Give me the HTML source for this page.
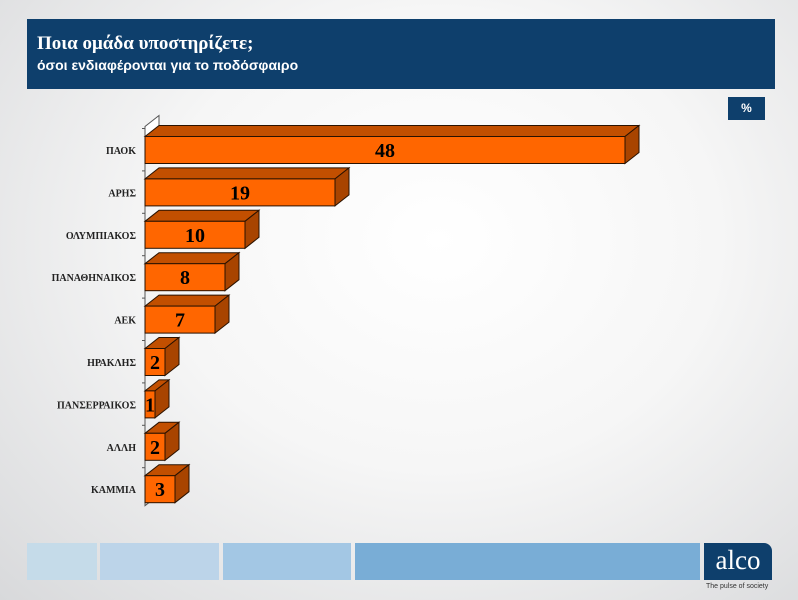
<!DOCTYPE html>
<html><head><meta charset="utf-8"><style>
body{margin:0;width:798px;height:600px;overflow:hidden;background:radial-gradient(ellipse at 55% 40%,#ffffff 0%,#f6f6f6 45%,#d8d9db 100%);font-family:"Liberation Serif",serif;position:relative}
.hdr{position:absolute;left:27px;top:19px;width:748px;height:70px;background:#0e3f6c}
.t1{position:absolute;left:10px;top:14px;color:#fff;font-size:19px;font-weight:bold}
.t2{position:absolute;left:10px;top:38px;color:#fff;font-size:14px;font-weight:bold;font-family:"Liberation Sans",sans-serif}
.pct{position:absolute;left:728px;top:97px;width:37px;height:23px;background:#0e3f6c;color:#fff;font:bold 12px "Liberation Sans",sans-serif;text-align:center;line-height:23px}
.fb{position:absolute;top:543px;height:37px}
</style></head><body>
<div class="hdr">
<div class="t1">Ποια ομάδα υποστηρίζετε;</div>
<div class="t2">όσοι ενδιαφέρονται για το ποδόσφαιρο</div>
</div>
<div class="pct">%</div>
<svg id="chart" width="798" height="600" style="position:absolute;left:0;top:0"></svg>
<div class="fb" style="left:27px;width:70px;background:#c5dbe9"></div>
<div class="fb" style="left:100px;width:119px;background:#bcd4e9"></div>
<div class="fb" style="left:223px;width:128px;background:#a3c7e4"></div>
<div class="fb" style="left:355px;width:345px;background:#79add6"></div>
<div class="fb" style="left:704px;width:68px;background:#0e3f6c;border-top-right-radius:8px;color:#fff;font-size:27px;text-align:center;line-height:34px">alco</div>
<div style="position:absolute;left:706px;top:583px;font:7px 'Liberation Sans',sans-serif;color:#333">The pulse of society</div>
<script>
const categories=["ΠΑΟΚ","ΑΡΗΣ","ΟΛΥΜΠΙΑΚΟΣ","ΠΑΝΑΘΗΝΑΙΚΟΣ","ΑΕΚ","ΗΡΑΚΛΗΣ","ΠΑΝΣΕΡΡΑΙΚΟΣ","ΑΛΛΗ","ΚΑΜΜΙΑ"];
const values=[48,19,10,8,7,2,1,2,3];
const svg=document.getElementById('chart');
const NS='http://www.w3.org/2000/svg';
const x0=145,unit=10,top0=150,step=42.4,h=27,dx=14,dy=11;
function xs(v){return x0+v*unit}
function yc(i){return top0+i*step}
function mk(t,a){const e=document.createElementNS(NS,t);for(const k in a)e.setAttribute(k,a[k]);svg.appendChild(e);return e}
const ax=mk('path',{d:`M${x0} ${yc(0)-h/2-10}L${x0} ${yc(8)+h/2+3}L${x0+dx} ${yc(8)+h/2+3-dy}`,stroke:'#555',fill:'none','stroke-width':1});


const wall=mk('path',{d:`M${x0} ${yc(0)-h/2}L${x0} ${yc(0)-h/2-10}L${x0+dx} ${yc(0)-h/2-10-dy}L${x0+dx} ${yc(0)-h/2-dy}`,stroke:'#555',fill:'#fff','stroke-width':1});


values.forEach((v,i)=>{
 const y=yc(i)-h/2,x1=xs(v);
 const g=document.createElementNS(NS,'g');svg.appendChild(g);
 
 
 const add=(t,a)=>{const e=document.createElementNS(NS,t);for(const k in a)e.setAttribute(k,a[k]);g.appendChild(e);return e};
 add('polygon',{points:`${x0},${y} ${x0+dx},${y-dy} ${x1+dx},${y-dy} ${x1},${y}`,fill:'#c24f00',stroke:'#2a1200','stroke-width':1});
 add('polygon',{points:`${x1},${y} ${x1+dx},${y-dy} ${x1+dx},${y+h-dy} ${x1},${y+h}`,fill:'#a84400',stroke:'#2a1200','stroke-width':1});
 add('rect',{x:x0,y:y,width:x1-x0,height:h,fill:'#ff6600',stroke:'#2a1200','stroke-width':1});
 const vt=add('text',{x:(x0+x1)/2,y:yc(i)+7,'text-anchor':'middle','font-size':20,'font-weight':'bold','font-family':'Liberation Serif,serif',fill:'#000'});
 vt.textContent=values[i];
 
 const tk=mk('line',{x1:x0-3,x2:x0,y1:y-8,y2:y-8,stroke:'#555'});
 
 const lt=mk('text',{x:x0-9,y:yc(i)+4,'text-anchor':'end','font-size':10,'font-weight':'bold','font-family':'Liberation Serif,serif',fill:'#222'});
 lt.textContent=categories[i];
 
 
});
</script>
</body></html>
